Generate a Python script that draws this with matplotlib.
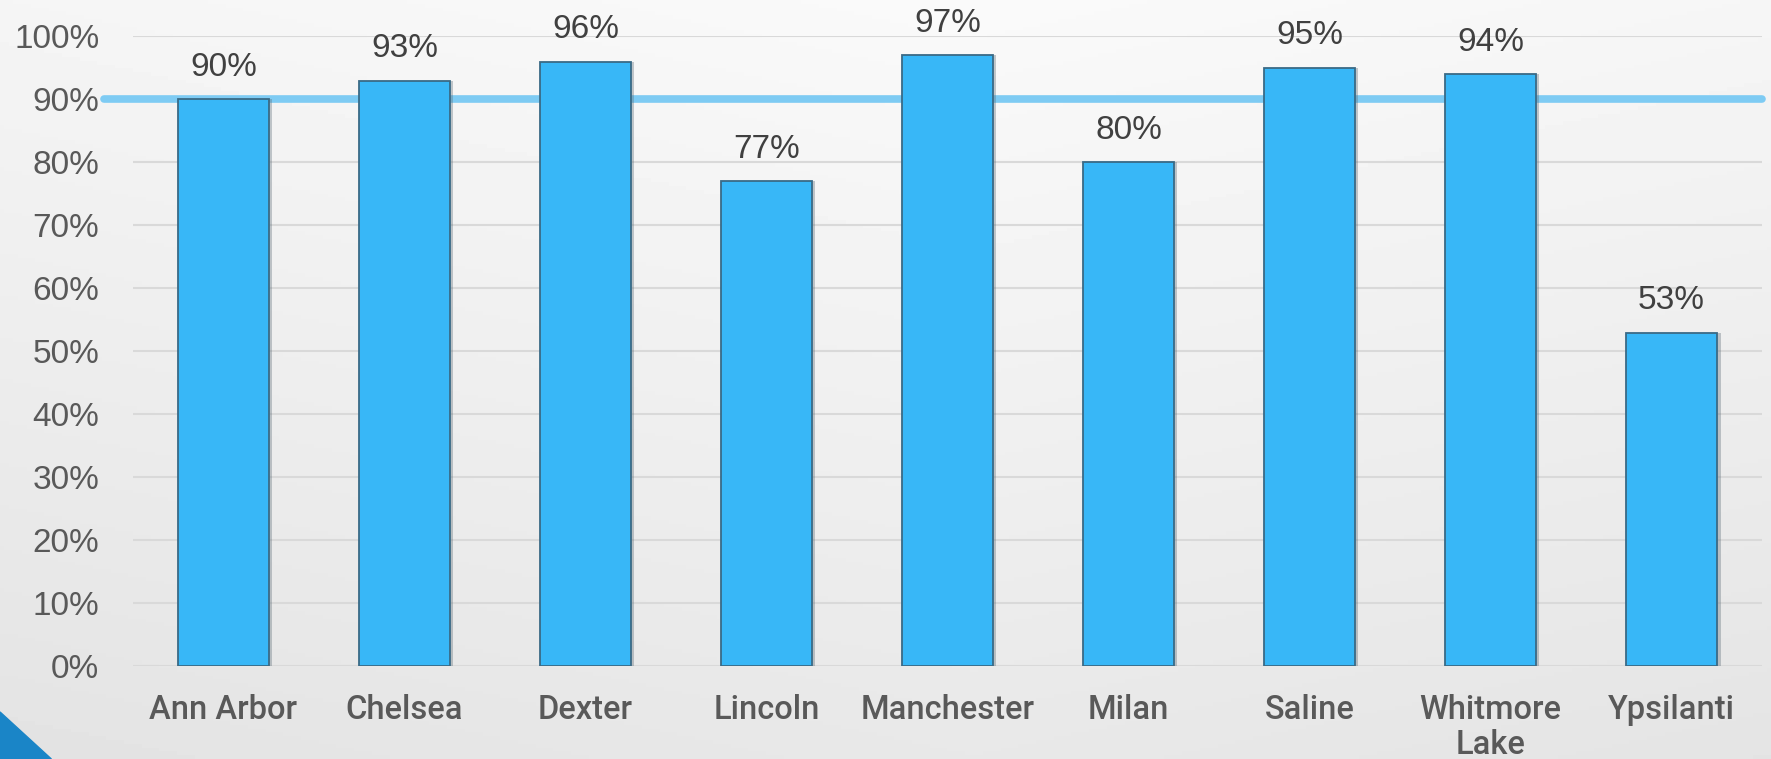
import matplotlib.pyplot as plt
import numpy as np
from matplotlib.patches import Polygon

# data
districts = ['Ann Arbor', 'Chelsea', 'Dexter', 'Lincoln', 'Manchester',
             'Milan', 'Saline', 'Whitmore\nLake', 'Ypsilanti']
rates = [0.90, 0.93, 0.96, 0.77, 0.97, 0.80, 0.95, 0.94, 0.53]
target = 0.90
yticks = [0.0, 0.1, 0.2, 0.3, 0.4, 0.5, 0.6, 0.7, 0.8, 0.9, 1.0]

plt.rcParams['font.family'] = ['Liberation Sans', 'DejaVu Sans']

fig = plt.figure(figsize=(17.71, 7.59), dpi=100)

# soft grey background with a lighter area near the top
bg = fig.add_axes([0, 0, 1, 1], zorder=-10)
yy, xx = np.mgrid[0:1:200j, 0:1:400j]
shade = 0.98 - 0.07 * yy - 0.035 * np.abs(xx - 0.55)
bg.imshow(shade, cmap='gray', vmin=0, vmax=1, aspect='auto',
          extent=[0, 1, 0, 1], origin='upper')
bg.add_patch(Polygon([[0, 0], [0, 0.062], [0.029, 0]], closed=True,
                     color='#1a85c7', transform=bg.transAxes))
bg.set_xlim(0, 1)
bg.set_ylim(0, 1)
bg.axis('off')

ax = fig.add_axes([0.075, 0.122, 0.92, 0.83])
ax.patch.set_alpha(0)

x = np.arange(len(districts))
ax.plot([-0.66, len(districts) - 0.5], [target, target], color='#7ecbf3',
        lw=5.5, solid_capstyle='round', zorder=2, clip_on=False)
# faint shadow behind the bars
ax.bar(x + 0.01, rates, width=0.52, color='#5a6a75', alpha=0.35,
       linewidth=0, zorder=2.5)
bars = ax.bar(x, rates, width=0.5, color='#38b7f7', edgecolor='#3a6a86',
              linewidth=1.3, zorder=3)

for xi, v in zip(x, rates):
    ax.annotate(f'{v:.0%}', (xi, v), xytext=(0, 12), textcoords='offset points',
                ha='center', va='bottom', fontsize=24, color='#404040',
                annotation_clip=False)

ax.set_xlim(-0.5, len(districts) - 0.5)
ax.set_ylim(0, 1.0)
ax.set_yticks(yticks)
ax.set_yticklabels([f'{t:.0%}' for t in yticks])
ax.set_xticks(x)
ax.set_xticklabels(districts, linespacing=1.1,
                   family=['Roboto', 'Liberation Sans'], fontweight='medium')
ax.tick_params(axis='y', length=0, pad=24, labelsize=24, labelcolor='#595959')
ax.tick_params(axis='x', length=0, pad=20, labelsize=23.5, labelcolor='#595959')
ax.grid(axis='y', color='#d9d9d9', lw=1.5, zorder=0)
ax.set_axisbelow(True)
for s in ax.spines.values():
    s.set_visible(False)

plt.savefig('out.png', dpi=100)
